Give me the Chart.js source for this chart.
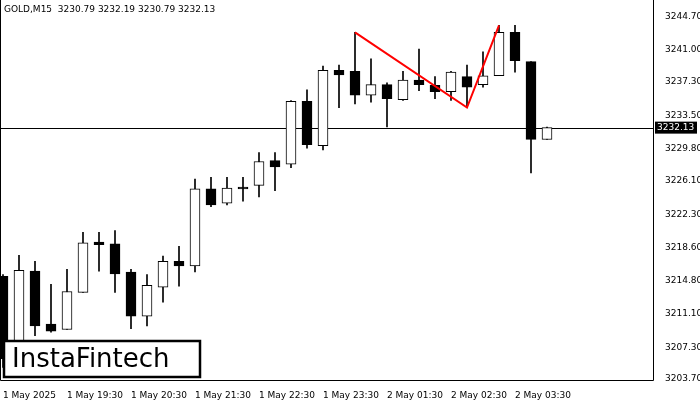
<!DOCTYPE html>
<html><head><meta charset="utf-8">
<script src="https://cdn.jsdelivr.net/npm/chart.js@4"></script>
<style>html,body{margin:0;padding:0;background:#fff}#w{width:700px;height:400px}</style>
</head><body><div id="w"><canvas id="c"></canvas></div>
<script>
const opens  = [3215.3,3208.0,3215.9,3209.9,3209.3,3213.5,3219.2,3219.0,3215.8,3210.8,3214.1,3217.0,3216.5,3225.2,3223.6,3225.4,3225.6,3228.4,3228.0,3235.1,3230.1,3238.6,3238.5,3235.8,3237.0,3235.3,3237.5,3236.9,3236.2,3237.9,3237.0,3238.0,3242.9,3239.6,3230.79];
const highs  = [3215.5,3217.7,3217.0,3214.4,3216.1,3220.3,3220.3,3220.5,3216.1,3215.5,3217.6,3218.7,3226.3,3226.5,3226.5,3226.5,3229.3,3229.3,3235.2,3236.4,3239.1,3239.2,3242.9,3239.9,3237.2,3238.5,3241.0,3237.9,3238.5,3239.2,3240.7,3243.7,3243.7,3239.6,3232.19];
const lows   = [3205.0,3207.0,3208.6,3209.0,3209.3,3213.5,3215.9,3213.5,3209.4,3209.7,3212.4,3214.2,3215.8,3223.2,3223.4,3223.8,3224.3,3225.0,3227.6,3229.8,3229.6,3234.4,3234.8,3235.0,3232.2,3235.2,3236.3,3235.4,3235.2,3234.4,3236.7,3238.0,3238.4,3227.0,3230.79];
const closes = [3206.0,3216.0,3209.7,3209.1,3213.6,3219.1,3218.9,3215.6,3210.8,3214.3,3217.0,3216.5,3225.2,3223.4,3225.3,3225.2,3228.3,3227.7,3235.1,3230.2,3238.6,3238.1,3235.8,3237.0,3235.4,3237.5,3237.0,3236.2,3238.4,3236.7,3238.0,3242.9,3239.7,3230.8,3232.13];
const patternIdx = [22,29,31];
const patternVal = [3242.9,3234.4,3243.7];
const priceTicks = [3244.70,3241.00,3237.30,3233.50,3229.80,3226.10,3222.30,3218.60,3214.80,3211.10,3207.30,3203.70];
const timeLabels = {0:"1 May 2025",4:"1 May 19:30",8:"1 May 20:30",12:"1 May 21:30",16:"1 May 22:30",20:"1 May 23:30",24:"2 May 01:30",28:"2 May 02:30",32:"2 May 03:30"};
const lastPrice = 3232.13;

const wick = opens.map((o,i)=>({x:i,y:[lows[i],highs[i]]}));
const body = opens.map((o,i)=>({x:i,y:[o,closes[i]===o?o+0.05:closes[i]]}));
const bodyColors = opens.map((o,i)=>closes[i]>=o?'#ffffff':'#000000');
const pattern = patternIdx.map((x,k)=>({x:x,y:patternVal[k]}));

const extras = {
  id:'extras',
  beforeDatasetsDraw(ch){
    const ctx=ch.ctx,a=ch.chartArea,y=ch.scales.y.getPixelForValue(lastPrice);
    ctx.save();ctx.strokeStyle='#000';ctx.lineWidth=1;
    ctx.beginPath();ctx.moveTo(a.left,Math.round(y)+0.5);ctx.lineTo(a.right,Math.round(y)+0.5);ctx.stroke();
    ctx.restore();
  },
  afterDraw(ch){
    const ctx=ch.ctx,a=ch.chartArea,y=ch.scales.y.getPixelForValue(lastPrice);
    ctx.save();
    ctx.strokeStyle='#000';ctx.lineWidth=1;
    ctx.beginPath();ctx.moveTo(a.left+0.5,0);ctx.lineTo(a.left+0.5,a.bottom+0.5);ctx.lineTo(a.right+0.5,a.bottom+0.5);ctx.lineTo(a.right+0.5,0);ctx.stroke();
    ctx.fillStyle='#000';ctx.fillRect(a.right+2,y-6,42,12);
    ctx.fillStyle='#fff';ctx.font='9px "DejaVu Sans"';ctx.textBaseline='middle';ctx.textAlign='left';
    ctx.fillText(lastPrice.toFixed(2),a.right+4,y);
    ctx.fillStyle='#000';ctx.font='9px "DejaVu Sans"';ctx.textBaseline='middle';
    ctx.fillText('GOLD,M15  3230.79 3232.19 3230.79 3232.13',4,10);
    ctx.fillStyle='#fff';ctx.fillRect(4,341,196,36);
    ctx.strokeStyle='#000';ctx.lineWidth=2.5;ctx.strokeRect(4,341,196,36);
    ctx.fillStyle='#000';ctx.font='26px "DejaVu Sans"';ctx.textBaseline='middle';
    ctx.fillText('InstaFintech',12,360);
    ctx.restore();
  }
};

new Chart(document.getElementById('c'),{
  type:'bar',
  data:{datasets:[
    {type:'line',data:pattern,borderColor:'#ff0000',borderWidth:2,pointRadius:0,order:0},
    {data:wick,backgroundColor:'#000',barThickness:1,grouped:false,order:2},
    {data:body,backgroundColor:bodyColors,borderColor:'#000',borderWidth:1,borderSkipped:false,barThickness:10,grouped:false,order:1}
  ]},
  options:{
    responsive:true,maintainAspectRatio:false,animation:false,
    layout:{padding:0},
    plugins:{legend:{display:false},tooltip:{enabled:false}},
    scales:{
      x:{type:'linear',offset:false,min:-0.1875,max:40.625,grid:{display:false},border:{display:false},
        afterBuildTicks(s){s.ticks=Object.keys(timeLabels).map(k=>({value:+k}));},
        afterFit(s){s.height=20;},
        ticks:{align:'start',maxRotation:0,autoSkip:false,padding:2,color:'#000',font:{family:'DejaVu Sans',size:9},callback:v=>timeLabels[v]||''}},
      y:{position:'right',min:3203.59,max:3245.5,grid:{display:false},border:{display:false},
        afterBuildTicks(s){s.ticks=priceTicks.map(v=>({value:v}));},
        afterFit(s){s.width=47;},
        ticks:{autoSkip:false,padding:4,color:'#000',font:{family:'DejaVu Sans',size:9},callback:v=>v.toFixed(2)}}
    }
  },
  plugins:[extras]
});
</script></body></html>
